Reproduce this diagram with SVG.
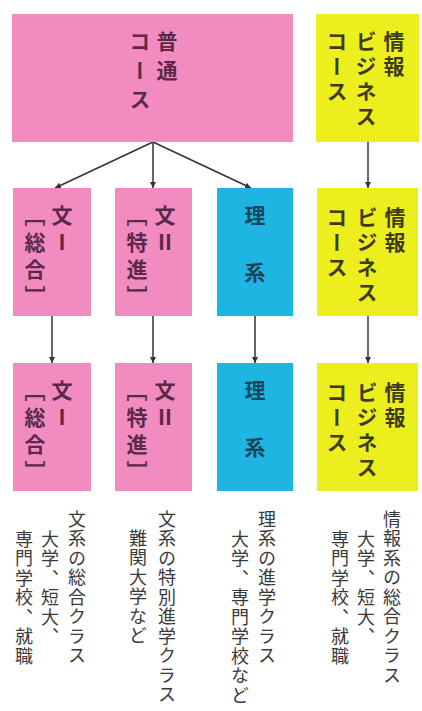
<svg xmlns="http://www.w3.org/2000/svg" width="422" height="711" viewBox="0 0 422 711">
<style>
.v{writing-mode:vertical-rl;font-family:"Noto Sans CJK JP","Noto Sans CJK SC",sans-serif;}
.b{font-size:21px;font-weight:bold;letter-spacing:4px;}
.p{letter-spacing:6px;}
.pk{fill:#F28BC0;} .cy{fill:#1FB5E2;} .ye{fill:#EDEE1E;}
.tp{fill:#5A2A48;} .tc{fill:#17465A;} .ty{fill:#3C3C16;}
.n{font-size:18px;letter-spacing:1.5px;fill:#3a3a3a;}
.ln{stroke:#333;stroke-width:1.5;fill:none;marker-end:url(#ah);}
</style>
<defs>
<marker id="ah" viewBox="0 0 10 10" refX="10" refY="5" markerWidth="6" markerHeight="6" markerUnits="userSpaceOnUse" orient="auto"><path d="M0,0 L10,5 L0,10 z" fill="#333"/></marker>
</defs>
<rect width="422" height="711" fill="#fff"/>
<g id="connectors">
<path class="ln" d="M153,142 L55,188"/>
<path class="ln" d="M153,142 L153,188"/>
<path class="ln" d="M153,142 L251,188"/>
<path class="ln" d="M368,142 L368,188"/>
<path class="ln" d="M52,316 L52,363"/>
<path class="ln" d="M153,316 L153,363"/>
<path class="ln" d="M255,316 L255,363"/>
<path class="ln" d="M368,316 L368,363"/>
</g>
<g id="futsu">
<rect class="pk" x="12" y="14" width="281" height="128"/>
<text class="v b tp" x="167" y="31" style="letter-spacing:8px">普通</text>
<text class="v b tp" x="140" y="31" style="letter-spacing:8px">コース</text>
</g>
<g id="joho-top">
<rect class="ye" x="316" y="14" width="103" height="128"/>
<text class="v b ty" x="394" y="31">情報</text>
<text class="v b ty" x="366" y="31">ビジネス</text>
<text class="v b ty" x="337" y="31">コース</text>
</g>
<g id="bun1-mid">
<rect class="pk" x="13" y="188" width="78" height="128"/>
<text class="v b p tp" x="62" y="205">文Ⅰ</text>
<text class="v b p tp" x="35" y="205">［総合］</text>
</g>
<g id="bun2-mid">
<rect class="pk" x="115" y="188" width="77" height="128"/>
<text class="v b p tp" x="165" y="205">文Ⅱ</text>
<text class="v b p tp" x="137" y="205">［特進］</text>
</g>
<g id="rikei-mid">
<rect class="cy" x="217" y="188" width="76" height="128"/>
<text class="v b tc" x="255" y="205" style="letter-spacing:36px">理系</text>
</g>
<g id="joho-mid">
<rect class="ye" x="317" y="188" width="101" height="128"/>
<text class="v b ty" x="395" y="207">情報</text>
<text class="v b ty" x="367" y="207">ビジネス</text>
<text class="v b ty" x="337" y="207">コース</text>
</g>
<g id="bun1-bot">
<rect class="pk" x="13" y="363" width="78" height="128"/>
<text class="v b p tp" x="62" y="380">文Ⅰ</text>
<text class="v b p tp" x="35" y="380">［総合］</text>
</g>
<g id="bun2-bot">
<rect class="pk" x="115" y="363" width="77" height="128"/>
<text class="v b p tp" x="165" y="380">文Ⅱ</text>
<text class="v b p tp" x="137" y="380">［特進］</text>
</g>
<g id="rikei-bot">
<rect class="cy" x="217" y="363" width="76" height="128"/>
<text class="v b tc" x="255" y="380" style="letter-spacing:36px">理系</text>
</g>
<g id="joho-bot">
<rect class="ye" x="317" y="363" width="101" height="128"/>
<text class="v b ty" x="395" y="382">情報</text>
<text class="v b ty" x="367" y="382">ビジネス</text>
<text class="v b ty" x="337" y="382">コース</text>
</g>
<g id="notes">
<text class="v n" x="77" y="510">文系の総合クラス</text>
<text class="v n" x="50" y="530">大学、短大、</text>
<text class="v n" x="24" y="530">専門学校、就職</text>
<text class="v n" x="167" y="510">文系の特別進学クラス</text>
<text class="v n" x="138" y="529">難関大学など</text>
<text class="v n" x="267" y="510">理系の進学クラス</text>
<text class="v n" x="240" y="530">大学、専門学校など</text>
<text class="v n" x="392" y="510">情報系の総合クラス</text>
<text class="v n" x="366" y="530">大学、短大、</text>
<text class="v n" x="340" y="530">専門学校、就職</text>
</g>
</svg>
